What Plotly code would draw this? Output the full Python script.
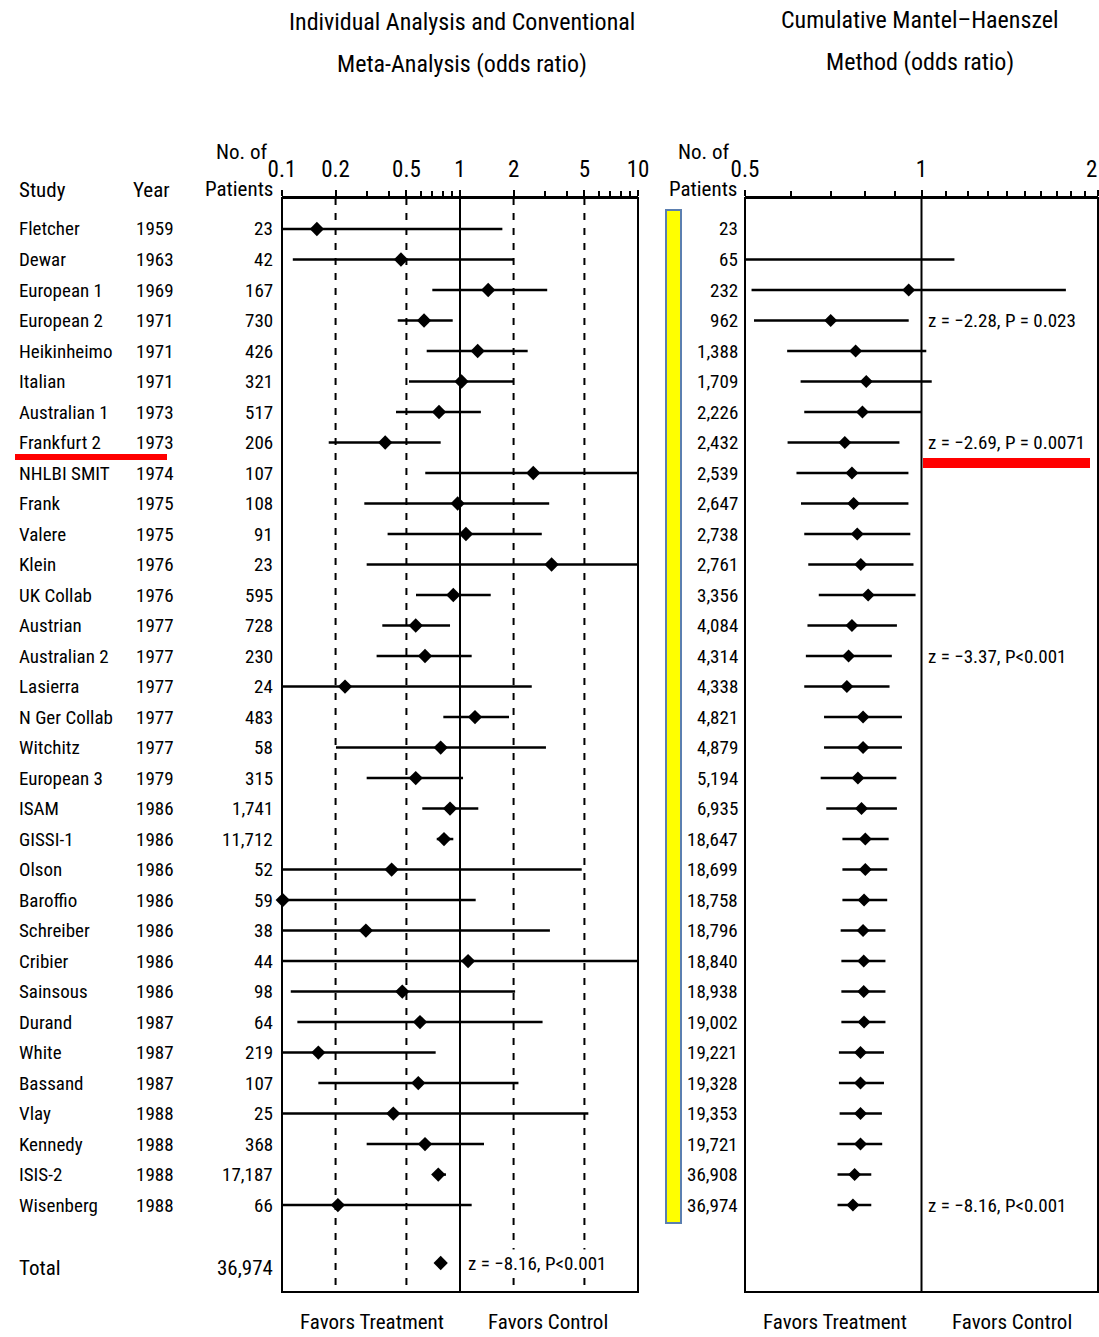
import plotly.graph_objects as go

W, H = 1099, 1337
FONT = "Liberation Sans Narrow, Arial Narrow, Roboto Condensed, Liberation Sans, Arial, sans-serif"

# ---- individual trials -------------------------------------------------------
studies = ["Fletcher", "Dewar", "European 1", "European 2", "Heikinheimo", "Italian",
           "Australian 1", "Frankfurt 2", "NHLBI SMIT", "Frank", "Valere", "Klein",
           "UK Collab", "Austrian", "Australian 2", "Lasierra", "N Ger Collab",
           "Witchitz", "European 3", "ISAM", "GISSI-1", "Olson", "Baroffio",
           "Schreiber", "Cribier", "Sainsous", "Durand", "White", "Bassand", "Vlay",
           "Kennedy", "ISIS-2", "Wisenberg"]
years = [1959, 1963, 1969, 1971, 1971, 1971, 1973, 1973, 1974, 1975, 1975, 1976,
         1976, 1977, 1977, 1977, 1977, 1977, 1979, 1986, 1986, 1986, 1986, 1986,
         1986, 1986, 1987, 1987, 1987, 1988, 1988, 1988, 1988]
patients = [23, 42, 167, 730, 426, 321, 517, 206, 107, 108, 91, 23, 595, 728, 230,
            24, 483, 58, 315, 1741, 11712, 52, 59, 38, 44, 98, 64, 219, 107, 25,
            368, 17187, 66]
or_ind = [0.157, 0.466, 1.44, 0.628, 1.257, 1.02, 0.762, 0.38, 2.58, 0.97, 1.08,
          3.27, 0.917, 0.564, 0.636, 0.226, 1.214, 0.779, 0.564, 0.879, 0.813,
          0.413, 0.101, 0.296, 1.11, 0.474, 0.596, 0.16, 0.583, 0.422, 0.636,
          0.755, 0.206]
lo_ind = [0.03, 0.115, 0.699, 0.447, 0.65, 0.517, 0.437, 0.183, 0.638, 0.29, 0.392,
          0.299, 0.566, 0.366, 0.34, 0.03, 0.806, 0.201, 0.299, 0.614, 0.74, 0.04,
          0.005, 0.03, 0.05, 0.112, 0.122, 0.04, 0.16, 0.03, 0.299, 0.724, 0.04]
hi_ind = [1.73, 1.99, 3.09, 0.91, 2.40, 1.99, 1.31, 0.779, 14.0, 3.17, 2.88, 18.0,
          1.488, 0.879, 1.163, 2.53, 1.885, 3.04, 1.04, 1.267, 0.917, 4.83, 1.225,
          3.20, 16.0, 2.04, 2.91, 0.73, 2.13, 5.26, 1.364, 0.834, 1.163]
total_patients = 36974
total_or = 0.779

# ---- cumulative Mantel-Haenszel ---------------------------------------------
cum_patients = [23, 65, 232, 962, 1388, 1709, 2226, 2432, 2539, 2647, 2738, 2761,
                3356, 4084, 4314, 4338, 4821, 4879, 5194, 6935, 18647, 18699,
                18758, 18796, 18840, 18938, 19002, 19221, 19328, 19353, 19721,
                36908, 36974]
or_cum = [None, 0.498, 0.951, 0.70, 0.772, 0.805, 0.793, 0.74, 0.761, 0.766, 0.777,
          0.788, 0.811, 0.761, 0.751, 0.746, 0.795, 0.795, 0.779, 0.79, 0.802,
          0.802, 0.798, 0.795, 0.797, 0.797, 0.798, 0.787, 0.787, 0.787, 0.787,
          0.769, 0.764]
lo_cum = [None, 0.2, 0.513, 0.518, 0.59, 0.622, 0.631, 0.591, 0.612, 0.623, 0.631,
          0.641, 0.668, 0.639, 0.635, 0.631, 0.682, 0.682, 0.673, 0.688, 0.733,
          0.733, 0.733, 0.728, 0.730, 0.730, 0.730, 0.723, 0.723, 0.725, 0.719,
          0.719, 0.719]
hi_cum = [None, 1.138, 1.763, 0.951, 1.019, 1.041, 0.999, 0.917, 0.95, 0.95, 0.957,
          0.969, 0.977, 0.908, 0.89, 0.882, 0.926, 0.926, 0.906, 0.908, 0.879,
          0.874, 0.874, 0.868, 0.868, 0.868, 0.868, 0.863, 0.863, 0.856, 0.857,
          0.821, 0.821]

# test statistics printed beside selected cumulative rows
z_rows = [3, 7, 14, 32]
z_texts = ["z = −2.28, P = 0.023", "z = −2.69, P = 0.0071",
           "z = −3.37, P<0.001", "z = −8.16, P<0.001"]
total_z_text = "z = −8.16, P<0.001"

left_ticks = [0.1, 0.2, 0.5, 1, 2, 5, 10]
left_minor = [0.3, 0.4, 0.6, 0.7, 0.8, 0.9, 3, 4, 6, 7, 8, 9]
right_ticks = [0.5, 1, 2]
right_minor = [0.6, 0.7, 0.8, 0.9, 1.1, 1.2, 1.3, 1.4, 1.5, 1.6, 1.7, 1.8, 1.9]
dashed_refs = [0.2, 0.5, 2, 5]

n = len(studies)
rows = list(range(n))
total_row = 33.9
Y_TOP, Y_BOT = -1.016, 34.85


def px(x):
    return x / W


def py(y):
    return 1 - y / H


fig = go.Figure()

# reference lines, left panel
for v in dashed_refs:
    fig.add_trace(go.Scatter(x=[v, v], y=[Y_TOP, Y_BOT], mode="lines",
                             line=dict(color="black", width=2, dash="7px,8px"),
                             xaxis="x", yaxis="y", hoverinfo="skip"))
fig.add_trace(go.Scatter(x=[1, 1], y=[Y_TOP, Y_BOT], mode="lines",
                         line=dict(color="black", width=2), xaxis="x", yaxis="y"))

# confidence intervals and point estimates, left panel
cx, cy = [], []
for i in rows:
    cx += [lo_ind[i], hi_ind[i], None]
    cy += [i, i, None]
fig.add_trace(go.Scatter(x=cx, y=cy, mode="lines", line=dict(color="black", width=2.5),
                         xaxis="x", yaxis="y"))
fig.add_trace(go.Scatter(x=or_ind + [total_or], y=rows + [total_row], mode="markers",
                         marker=dict(symbol="diamond", size=11, color="black"),
                         cliponaxis=False, xaxis="x", yaxis="y"))

# right panel
fig.add_trace(go.Scatter(x=[1, 1], y=[Y_TOP, Y_BOT], mode="lines",
                         line=dict(color="black", width=2), xaxis="x2", yaxis="y"))
rx, ry = [], []
for i in rows:
    if or_cum[i] is None:
        continue
    rx += [lo_cum[i], hi_cum[i], None]
    ry += [i, i, None]
fig.add_trace(go.Scatter(x=rx, y=ry, mode="lines", line=dict(color="black", width=2.5),
                         xaxis="x2", yaxis="y"))
fig.add_trace(go.Scatter(x=[v for v in or_cum if v is not None],
                         y=[i for i in rows if or_cum[i] is not None], mode="markers",
                         marker=dict(symbol="diamond", size=10, color="black"),
                         cliponaxis=False, xaxis="x2", yaxis="y"))

axis_common = dict(type="log", side="top", anchor="y", showline=True, linecolor="black",
                   linewidth=2, ticks="outside", ticklen=6, tickwidth=2, tickcolor="black",
                   showgrid=False, zeroline=False, automargin=False, ticklabelstandoff=4,
                   tickfont=dict(family=FONT, size=23, color="black"))
fig.update_layout(
    width=W, height=H, margin=dict(l=0, r=0, t=0, b=0, autoexpand=False),
    paper_bgcolor="white", plot_bgcolor="white", showlegend=False,
    font=dict(family=FONT, color="black"),
    xaxis=dict(domain=[px(282), px(638)], range=[-1, 1],
               tickvals=left_ticks, ticktext=[str(t) for t in left_ticks],
               minor=dict(tickvals=left_minor, ticks="outside", ticklen=5, tickwidth=1.5,
                          tickcolor="black", showgrid=False),
               **axis_common),
    xaxis2=dict(domain=[px(745), px(1098)], range=[-0.30103, 0.30103],
                tickvals=right_ticks, ticktext=[str(t) for t in right_ticks],
                minor=dict(tickvals=right_minor, ticks="outside", ticklen=5, tickwidth=1.5,
                           tickcolor="black", showgrid=False),
                **axis_common),
    yaxis=dict(domain=[py(1292), py(198)], range=[Y_BOT, Y_TOP], visible=False,
               automargin=False),
)

shapes = [
    dict(type="rect", xref="x domain", yref="y domain", x0=0, x1=1, y0=0, y1=1,
         line=dict(color="black", width=2)),
    dict(type="rect", xref="x2 domain", yref="y domain", x0=0, x1=1, y0=0, y1=1,
         line=dict(color="black", width=2)),
    # highlight band along the cumulative patient counts
    dict(type="rect", xref="paper", yref="paper", x0=px(666), x1=px(681),
         y0=py(1223), y1=py(210), fillcolor="#ffff00",
         line=dict(color="#5b7fb0", width=2)),
    # red markers under Frankfurt 2 and its cumulative result
    dict(type="rect", xref="paper", yref="paper", x0=px(15), x1=px(167),
         y0=py(460), y1=py(454), fillcolor="#ff0000", line=dict(width=0)),
    dict(type="rect", xref="paper", yref="paper", x0=px(923), x1=px(1090),
         y0=py(468), y1=py(458), fillcolor="#ff0000", line=dict(width=0)),
]
fig.update_layout(shapes=shapes)

ROW_SIZE = 19
ann = []


def text(x, y, s, anchor, size=ROW_SIZE, yref="y", **extra):
    ann.append(dict(x=x, y=y, xref="paper", yref=yref, text=s, showarrow=False,
                    xanchor=anchor, yanchor="middle",
                    font=dict(family=FONT, size=size, color="black"), **extra))


for i in rows:
    text(px(17), i, studies[i], "left")
    text(px(134), i, str(years[i]), "left")
    text(px(275), i, f"{patients[i]:,}", "right")
    text(px(740), i, f"{cum_patients[i]:,}", "right")
text(px(17), total_row + 0.15, "Total", "left", size=21)
text(px(275), total_row + 0.15, f"{total_patients:,}", "right", size=21)
text(px(465), total_row, total_z_text, "left", size=19, bgcolor="white", borderpad=2)
for r, s in zip(z_rows, z_texts):
    text(px(926), r, s, "left", size=19)

# last tick label of the cumulative axis, kept inside the page edge
text(px(1099), py(169), str(right_ticks[-1]), "right", size=23, yref="paper")

# column headers
text(px(17), py(190), "Study", "left", size=21, yref="paper")
text(px(131), py(190), "Year", "left", size=21, yref="paper")
text(px(269), py(152), "No. of", "right", size=21, yref="paper")
text(px(275), py(189), "Patients", "right", size=21, yref="paper")
text(px(731), py(152), "No. of", "right", size=21, yref="paper")
text(px(739), py(189), "Patients", "right", size=21, yref="paper")

# panel titles
text(px(462), py(22), "Individual Analysis and Conventional", "center", size=24, yref="paper")
text(px(462), py(64), "Meta-Analysis (odds ratio)", "center", size=24, yref="paper")
text(px(920), py(20), "Cumulative Mantel–Haenszel", "center", size=24, yref="paper")
text(px(920), py(62), "Method (odds ratio)", "center", size=24, yref="paper")

# direction labels
text(px(372), py(1322), "Favors Treatment", "center", size=21, yref="paper")
text(px(548), py(1322), "Favors Control", "center", size=21, yref="paper")
text(px(835), py(1322), "Favors Treatment", "center", size=21, yref="paper")
text(px(1012), py(1322), "Favors Control", "center", size=21, yref="paper")

fig.update_layout(annotations=ann)
fig.write_html("out.html")
